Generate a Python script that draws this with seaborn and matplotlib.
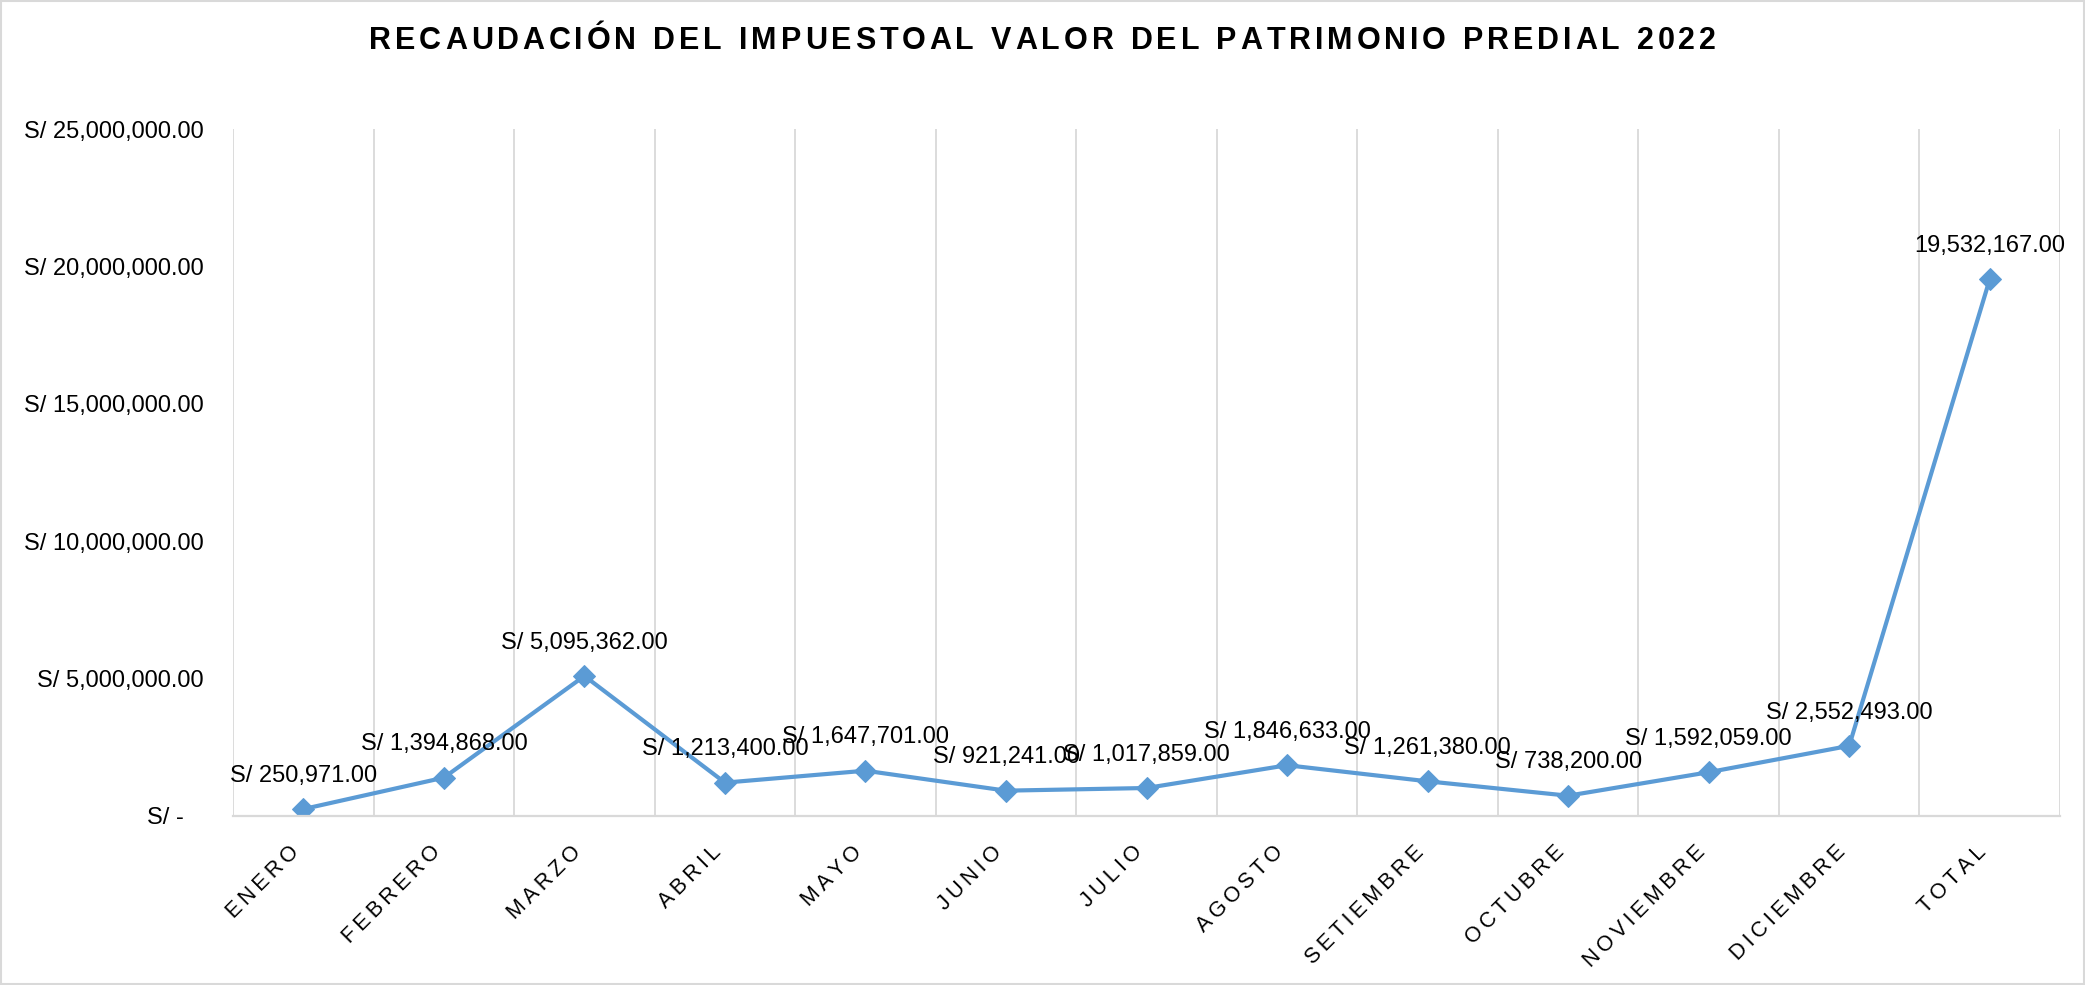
"""
Recaudación del impuesto predial 2022 - gráfico de líneas
"""

import pandas as pd
import numpy as np
import matplotlib
matplotlib.use("Agg")
import matplotlib.pyplot as plt
import matplotlib.transforms as mtransforms
from matplotlib.ticker import FixedLocator, FuncFormatter
import seaborn as sns

# Datos
meses = ['ENERO', 'FEBRERO', 'MARZO', 'ABRIL', 'MAYO', 'JUNIO', 'JULIO',
         'AGOSTO', 'SETIEMBRE', 'OCTUBRE', 'NOVIEMBRE', 'DICIEMBRE', 'TOTAL']
montos = [250971, 1394868, 5095362, 1213400, 1647701, 921241, 1017859,
          1846633, 1261380, 738200, 1592059, 2552493, 19532167]
y_ticks = [0, 5000000, 10000000, 15000000, 20000000, 25000000]
titulo = 'RECAUDACIÓN DEL IMPUESTOAL VALOR DEL PATRIMONIO PREDIAL 2022'

df = pd.DataFrame({'mes': meses, 'monto': montos})

LINE = '#5B9BD5'
GRID = '#D9D9D9'
FAM = ['Liberation Sans', 'DejaVu Sans']

sns.set_theme(style='white')
plt.rcParams['font.family'] = FAM

fig = plt.figure(figsize=(20.85, 9.85), dpi=100)
ax = fig.add_axes([0.1118, 0.1716, 0.8762, 0.6974])

sns.lineplot(data=df, x='mes', y='monto', sort=False, ax=ax, color=LINE,
             linewidth=3, marker='D', markersize=11, markeredgecolor=LINE)

ax.set_xlim(-0.5, len(meses) - 0.5)
ax.set_ylim(0, 25000000)
ax.yaxis.set_major_locator(FixedLocator(y_ticks))
ax.yaxis.set_major_formatter(FuncFormatter(
    lambda v, p: 'S/ -   ' if v == 0 else f'S/ {v:,.2f}'))
ax.tick_params(axis='y', labelsize=17, length=0, pad=21, colors='black')

# etiquetas del eje x con espaciado entre letras
ax.set_xticks(range(len(meses)))
ax.set_xticklabels(['\u2009'.join(m) for m in meses], rotation=45,
                   ha='right', va='center', rotation_mode='anchor',
                   fontsize=15.5)
ax.tick_params(axis='x', length=0, pad=24, colors='black')
shift = mtransforms.ScaledTranslation(-5 / 72, 0, fig.dpi_scale_trans)
for lbl in ax.get_xticklabels():
    lbl.set_transform(lbl.get_transform() + shift)

# lineas verticales entre categorias
ax.xaxis.set_minor_locator(FixedLocator(np.arange(-0.5, len(meses), 1)))
ax.grid(True, which='minor', axis='x', color=GRID, linewidth=1.3)
ax.grid(False, which='major')
ax.tick_params(which='minor', length=0)

for s in ['top', 'right', 'left']:
    ax.spines[s].set_visible(False)
ax.spines['bottom'].set_color(GRID)
ax.spines['bottom'].set_linewidth(1.6)
ax.set_xlabel('')
ax.set_ylabel('')

# etiquetas de datos
for i, v in enumerate(montos):
    txt = f'{v:,.2f}' if meses[i] == 'TOTAL' else f'S/ {v:,.2f}'
    ax.annotate(txt, (i, v), xytext=(0, 24), textcoords='offset points',
                ha='center', va='center', fontsize=17, color='black')

# titulo con espaciado entre letras (colocado letra por letra)
renderer = fig.canvas.get_renderer()
title_size = 22
tracking = 3.9  # px entre letras
widths = []
for ch in titulo:
    t = fig.text(0, 0, ch if ch != ' ' else 'n', fontsize=title_size,
                 fontweight='bold')
    w = t.get_window_extent(renderer).width
    if ch == ' ':
        w *= 0.5
    widths.append(w)
    t.remove()
total_w = sum(widths) + tracking * (len(titulo) - 1)
x0 = (fig.bbox.width - total_w) / 2
y0 = fig.bbox.height * 0.958
for ch, w in zip(titulo, widths):
    if ch != ' ':
        fig.text(x0 / fig.bbox.width, y0 / fig.bbox.height, ch,
                 fontsize=title_size, fontweight='bold', color='black',
                 ha='left', va='center')
    x0 += w + tracking

fig.patches.append(plt.Rectangle((0.0005, 0.001), 0.999, 0.998,
                                 transform=fig.transFigure, fill=False,
                                 edgecolor=GRID, linewidth=1.5))

plt.savefig('out.png', dpi=100)
